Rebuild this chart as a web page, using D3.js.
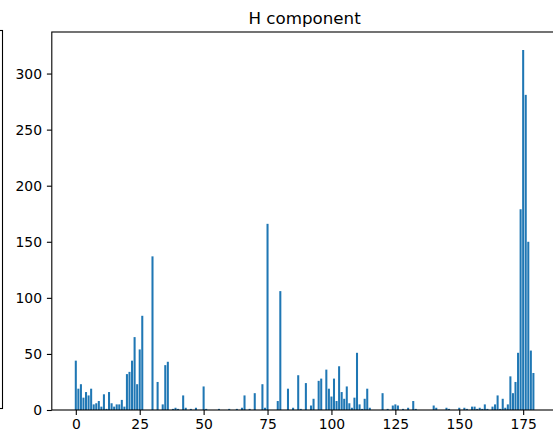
<!DOCTYPE html>
<html>
<head>
<meta charset="utf-8">
<script src="https://cdn.jsdelivr.net/npm/d3@7"></script>
<style>
    body { margin: 0; background: #fff; }
    svg { display: block; font-family: "DejaVu Sans", sans-serif; }
</style>
</head>
<body>
<div class="visHolder"></div>
<script>
// Hue bins 0..179
const bins = d3.range(180);

// Pixel counts per hue bin
const counts = [
    44, 19, 23, 11, 16, 13, 19, 5, 6, 8,
    3, 14, 1, 16, 6, 3, 5, 5, 9, 3,
    32, 34, 44, 65, 23, 54, 84, 0, 0, 0,
    137, 0, 25, 0, 5, 40, 43, 0, 1, 2,
    1, 0, 13, 2, 0, 1, 0, 2, 0, 0,
    21, 1, 0, 0, 0, 0, 1, 0, 0, 0,
    1, 0, 0, 1, 0, 2, 13, 0, 1, 0,
    15, 0, 0, 23, 2, 166, 0, 0, 0, 8,
    106, 0, 0, 19, 0, 2, 0, 31, 1, 0,
    24, 0, 4, 10, 0, 26, 28, 0, 36, 19,
    12, 28, 8, 39, 16, 10, 21, 6, 2, 11,
    51, 5, 1, 10, 19, 2, 0, 0, 0, 0,
    15, 0, 1, 0, 4, 5, 4, 0, 1, 0,
    2, 0, 8, 1, 0, 0, 0, 0, 0, 0,
    4, 2, 0, 0, 0, 2, 1, 0, 0, 0,
    2, 0, 2, 1, 0, 3, 3, 1, 2, 1,
    5, 1, 0, 3, 5, 13, 1, 10, 2, 5,
    30, 15, 25, 51, 179, 321, 281, 150, 53, 33
];

const xTicks = [0, 25, 50, 75, 100, 125, 150, 175];
const yTicks = [0, 50, 100, 150, 200, 250, 300];

const width = 553;
const height = 434;
const plotLeft = 51.8;
const plotRight = 557.4;
const plotTop = 32;
const plotBottom = 410;

// matplotlib style limits: 5% margins around the bars
const x0 = -0.4, x1 = 179.4;
const xPad = (x1 - x0) * 0.05;
const xScale = d3.scaleLinear()
    .domain([x0 - xPad, x1 + xPad])
    .range([plotLeft, plotRight]);

const yScale = d3.scaleLinear()
    .domain([0, d3.max(counts) * 1.05])
    .range([plotBottom, plotTop]);

const svg = d3.select(".visHolder")
    .append("svg")
    .attr("width", width)
    .attr("height", height);

// Right edge of the neighbouring subplot, cut off by the crop
svg.append("rect")
    .attr("x", -20)
    .attr("y", 30.5)
    .attr("width", 22.5)
    .attr("height", 378)
    .attr("fill", "none")
    .attr("stroke", "#000")
    .attr("stroke-width", 1.1);

svg.append("clipPath")
    .attr("id", "plotArea")
    .append("rect")
    .attr("x", plotLeft)
    .attr("y", plotTop)
    .attr("width", plotRight - plotLeft)
    .attr("height", plotBottom - plotTop);

// Bars
svg.append("g")
    .attr("clip-path", "url(#plotArea)")
    .selectAll("rect")
    .data(bins)
    .enter()
    .append("rect")
    .attr("x", d => xScale(d - 0.4))
    .attr("y", d => yScale(counts[d]))
    .attr("width", xScale(0.8) - xScale(0))
    .attr("height", d => yScale(0) - yScale(counts[d]))
    .attr("fill", "#1f77b4");

// x-axis
const xAxis = svg.append("g")
    .attr("transform", `translate(0, ${plotBottom})`)
    .call(d3.axisBottom(xScale).tickValues(xTicks).tickSize(4.9).tickPadding(4.2));

// y-axis
const yAxis = svg.append("g")
    .attr("transform", `translate(${plotLeft}, 0)`)
    .call(d3.axisLeft(yScale).tickValues(yTicks).tickSize(4.9).tickPadding(4.9));

[xAxis, yAxis].forEach(g => {
    g.select(".domain").remove();
    g.selectAll("line").attr("stroke", "#000").attr("stroke-width", 1.1);
    g.selectAll("text")
        .attr("fill", "#000")
        .style("font-family", "'DejaVu Sans', sans-serif")
        .style("font-size", "13.9px");
});

// Frame
svg.append("rect")
    .attr("x", plotLeft)
    .attr("y", plotTop)
    .attr("width", plotRight - plotLeft)
    .attr("height", plotBottom - plotTop)
    .attr("fill", "none")
    .attr("stroke", "#000")
    .attr("stroke-width", 1.1);

// Title
svg.append("text")
    .attr("x", (plotLeft + plotRight) / 2)
    .attr("y", plotTop - 8.5)
    .style("text-anchor", "middle")
    .style("font-size", "16.7px")
    .attr("fill", "#000")
    .text("H component");
</script>
</body>
</html>
